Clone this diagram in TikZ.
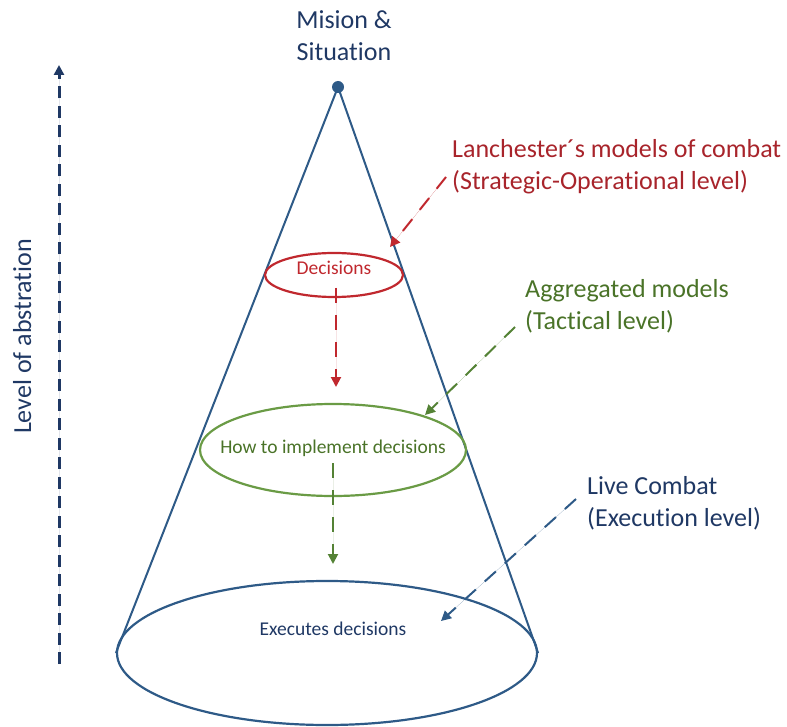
\documentclass[tikz,border=0pt]{standalone}
\usepackage{fontspec}
\setmainfont{Carlito}[Ligatures={NoCommon,NoContextual,NoRequired}, RawFeature={-liga;-clig;-calt;-dlig}]
\usetikzlibrary{shapes.geometric,arrows.meta}

\definecolor{navy}{HTML}{1F3864}
\definecolor{coneblue}{HTML}{2E5A87}
\definecolor{redring}{HTML}{C0282E}
\definecolor{redtext}{HTML}{A8242B}
\definecolor{greenring}{HTML}{6A9B45}
\definecolor{greentext}{HTML}{4A7328}
\definecolor{greenarrow}{HTML}{548235}

\begin{document}
\begin{tikzpicture}[x=1pt,y=-1pt,
  bigtext/.style={font=\fontsize{26}{32}\selectfont, inner sep=0pt},
  smalltext/.style={font=\fontsize{19.5}{24}\selectfont, inner sep=0pt, anchor=base},
  ring/.style={ellipse, draw, line width=2.2pt, inner sep=0pt},
  cone/.style={draw=coneblue, line width=2pt},
  pointer/.style={line width=2pt, dash pattern=on 15pt off 12pt,
                  -{Triangle[length=10pt,width=10pt]}},
]
\useasboundingbox (0,0) rectangle (787,727);

% the cone: apex point, base ring and the two sides
\node[circle, fill=coneblue, inner sep=0pt, minimum size=12pt] (apex) at (338,87) {};
\node[ring, draw=coneblue, minimum width=420, minimum height=144] (exec) at (327,653) {};
\draw[cone] (apex.center) -- (exec.west);
\draw[cone] (apex.center) -- (exec.east);

% decision levels inside the cone
\node[ring, draw=redring, minimum width=138, minimum height=44] (dec) at (334,275) {};
\node[smalltext, text=redring] (dect) at (334,275) {Decisions};
\node[ring, draw=greenring, minimum width=266, minimum height=92] (impl) at (333,450) {};
\node[smalltext, text=greentext] (implt) at (333,453) {How to implement decisions};
\node[smalltext, text=navy] (exect) at (333,635) {Executes decisions};

% flow between the levels
\coordinate (decfoot) at (336,288);
\coordinate (implfoot) at (333,463);
\draw[pointer, draw=redring, fill=redring] (decfoot) -- (336,387);
\draw[pointer, draw=greenarrow, fill=greenarrow] (implfoot) -- (333,564);

% title at the apex (base anchor sits on the last line)
\node[bigtext, text=navy, align=center, anchor=base] (mission) at (344,61) {Mision \&\\Situation};

% model labels with their pointers
\node[bigtext, text=redtext, align=left, anchor=base west] (lanch) at (452,190)
  {Lanchester´s models of combat\\(Strategic-Operational level)};
\node[bigtext, text=greentext, align=left, anchor=base west] (aggr) at (525,329)
  {Aggregated models\\(Tactical level)};
\node[bigtext, text=navy, align=left, anchor=base west] (live) at (587,526)
  {Live Combat\\(Execution level)};

\coordinate (lanchfrom) at (446,177);
\coordinate (aggrfrom) at (515,327);
\coordinate (livefrom) at (576,499);
\coordinate (lanchto) at (390,247);
\coordinate (aggrto) at (425,415);
\coordinate (liveto) at (441,621);
\draw[pointer, draw=redring, fill=redring] (lanchfrom) -- (lanchto);
\draw[pointer, draw=greenarrow, fill=greenarrow] (aggrfrom) -- (aggrto);
\draw[pointer, draw=coneblue, fill=coneblue] (livefrom) -- (liveto);

% abstraction axis
\coordinate (axisfoot) at (59,664);
\coordinate (axistop) at (59,65);
\draw[navy, fill=navy, line width=3pt, dash pattern=on 12pt off 7.5pt,
      -{Triangle[length=10pt,width=10pt]}] (axisfoot) -- (axistop);
\node[bigtext, text=navy, rotate=90, anchor=base] (axislabel) at (31,336.5) {Level of abstration};
\end{tikzpicture}
\end{document}
